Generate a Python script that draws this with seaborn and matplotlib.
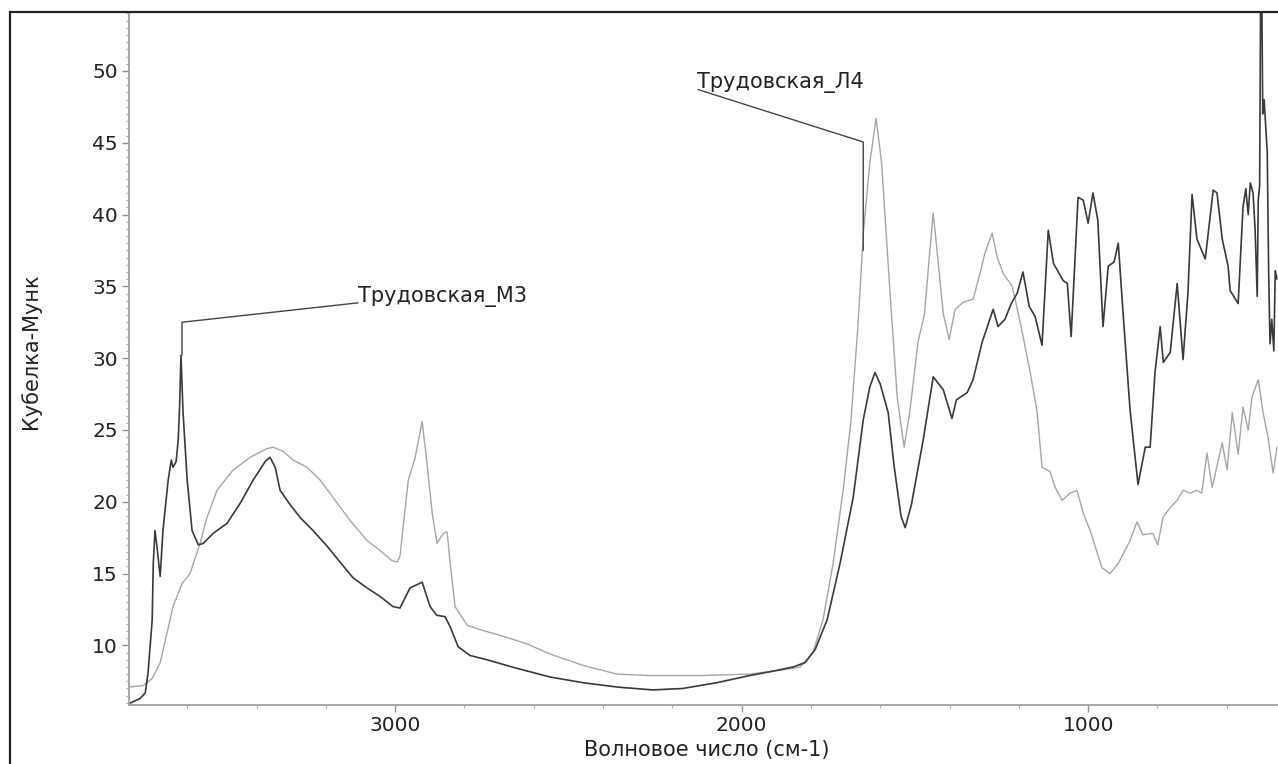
import matplotlib
matplotlib.use("Agg")
import matplotlib.pyplot as plt
from matplotlib.patches import Rectangle
from matplotlib.ticker import MultipleLocator
import seaborn as sns
import pandas as pd

# spectrum of sample M3 (dark line): wavenumber, Kubelka-Munk
m3_wn = [3768, 3736, 3721, 3713, 3701, 3698, 3693, 3687, 3678, 3670,
         3655, 3646, 3641, 3632, 3626, 3622, 3618, 3612, 3600, 3586,
         3568, 3554, 3525, 3485, 3447, 3410, 3375, 3361, 3346, 3332,
         3303, 3274, 3237, 3196, 3159, 3121, 3081, 3043, 3006, 2986,
         2957, 2922, 2899, 2880, 2856, 2841, 2818, 2784, 2735, 2648,
         2553, 2457, 2359, 2257, 2170, 2072, 1977, 1911, 1851, 1817,
         1788, 1753, 1716, 1678, 1649, 1630, 1615, 1600, 1577, 1560,
         1540, 1528, 1510, 1476, 1447, 1418, 1393, 1380, 1349, 1332,
         1306, 1274, 1260, 1240, 1222, 1205, 1188, 1170, 1153, 1133,
         1115, 1100, 1072, 1060, 1049, 1029, 1014, 1000, 986, 972,
         957, 942, 925, 913, 899, 879, 856, 835, 821, 807,
         792, 783, 763, 743, 726, 712, 700, 686, 662, 639,
         628, 613, 596, 590, 567, 553, 545, 538, 532, 524,
         518, 512, 509, 505, 502, 499, 496, 492, 487, 483,
         479, 475, 470, 464, 460, 455]
m3_km = [5.95, 6.3, 6.7, 8.1, 11.8, 15.7, 18.0, 16.8, 14.8, 18.0,
         21.5, 22.9, 22.4, 22.8, 24.3, 26.6, 30.2, 26.2, 21.5, 18.0,
         17.0, 17.1, 17.8, 18.5, 19.9, 21.5, 22.8, 23.1, 22.4, 20.8,
         19.8, 18.9, 18.0, 16.9, 15.8, 14.7, 14.0, 13.4, 12.7, 12.6,
         14.0, 14.4, 12.7, 12.1, 12.0, 11.3, 9.9, 9.3, 9.0, 8.4,
         7.8, 7.4, 7.1, 6.9, 7.0, 7.4, 7.9, 8.2, 8.5, 8.8,
         9.7, 11.8, 15.7, 20.3, 25.7, 28.0, 29.0, 28.2, 26.2, 22.5,
         19.0, 18.2, 19.8, 24.3, 28.7, 27.8, 25.8, 27.1, 27.6, 28.5,
         31.1, 33.4, 32.2, 32.7, 33.8, 34.5, 36.0, 33.6, 32.9, 30.9,
         38.9, 36.6, 35.4, 35.2, 31.5, 41.2, 41.0, 39.4, 41.5, 39.6,
         32.2, 36.4, 36.7, 38.0, 33.1, 26.4, 21.2, 23.8, 23.8, 29.0,
         32.2, 29.7, 30.4, 35.2, 29.9, 34.5, 41.4, 38.3, 36.9, 41.7,
         41.5, 38.3, 36.4, 34.7, 33.8, 40.5, 41.8, 40.0, 42.2, 41.5,
         38.9, 34.3, 41.0, 42.0, 56.0, 56.0, 47.0, 48.0, 46.0, 44.3,
         36.0, 31.0, 32.7, 30.5, 36.1, 35.5]

# spectrum of sample L4 (light line)
l4_wn = [3768, 3727, 3701, 3678, 3658, 3641, 3615, 3592, 3563, 3543,
         3514, 3468, 3418, 3370, 3352, 3323, 3294, 3254, 3216, 3179,
         3130, 3081, 3043, 3009, 2994, 2986, 2962, 2942, 2922, 2908,
         2893, 2879, 2861, 2850, 2841, 2827, 2792, 2755, 2697, 2619,
         2553, 2457, 2359, 2264, 2121, 1977, 1880, 1831, 1794, 1765,
         1736, 1707, 1685, 1665, 1648, 1630, 1612, 1596, 1571, 1551,
         1531, 1515, 1491, 1472, 1456, 1447, 1437, 1418, 1401, 1384,
         1360, 1332, 1312, 1298, 1277, 1262, 1245, 1219, 1196, 1167,
         1147, 1133, 1110, 1095, 1075, 1052, 1032, 1014, 994, 960,
         937, 913, 879, 859, 842, 813, 799, 784, 763, 743,
         726, 706, 686, 672, 657, 642, 613, 599, 584, 567,
         553, 538, 527, 509, 495, 481, 466, 455]
l4_km = [7.1, 7.2, 7.7, 8.8, 10.9, 12.7, 14.3, 15.0, 17.1, 18.9,
         20.8, 22.2, 23.1, 23.7, 23.8, 23.5, 22.9, 22.4, 21.5, 20.3,
         18.7, 17.3, 16.6, 15.9, 15.8, 16.2, 21.5, 23.1, 25.6, 22.7,
         19.2, 17.1, 17.8, 17.9, 15.7, 12.7, 11.4, 11.1, 10.7, 10.1,
         9.4, 8.6, 8.0, 7.9, 7.9, 8.0, 8.3, 8.5, 9.5, 11.8,
         15.7, 20.8, 25.5, 32.0, 38.9, 43.6, 46.7, 43.6, 34.3, 27.3,
         23.8, 26.2, 31.1, 33.1, 37.7, 40.1, 37.7, 33.1, 31.3, 33.4,
         33.9, 34.1, 35.9, 37.3, 38.7, 37.0, 35.9, 35.0, 32.5, 29.0,
         26.2, 22.4, 22.1, 21.0, 20.1, 20.6, 20.8, 19.2, 18.0, 15.4,
         15.0, 15.7, 17.3, 18.6, 17.7, 17.8, 17.0, 18.9, 19.6, 20.1,
         20.8, 20.6, 20.8, 20.6, 23.4, 21.0, 24.1, 22.2, 26.2, 23.3,
         26.6, 25.0, 27.3, 28.5, 26.2, 24.5, 22.0, 23.8]

labels = ["Трудовская_М3", "Трудовская_Л4"]
# leader lines: text anchor, elbow, end on curve (data units)
m3_label = (3107, 34.3)
m3_leader = ([3107, 3615, 3615], [33.85, 32.5, 30.2])
l4_label = (2128, 49.2)
l4_leader = ([2126, 1649, 1649], [48.7, 45.05, 37.5])

df_m3 = pd.DataFrame({"wn": m3_wn, "km": m3_km})
df_l4 = pd.DataFrame({"wn": l4_wn, "km": l4_km})

sns.set_style("ticks")
plt.rcParams['font.family'] = ['DejaVu Sans']

fig = plt.figure(figsize=(12.78, 7.64), dpi=100)
ax = fig.add_axes([129 / 1278, 1 - 705 / 764, 1149 / 1278, 693 / 764])

sns.lineplot(data=df_l4, x="wn", y="km", color="#a6a6a6", linewidth=1.0, ax=ax)
sns.lineplot(data=df_m3, x="wn", y="km", color="#3a3a3a", linewidth=1.2, ax=ax)

ax.set_xlim(3768, 452)
ax.set_ylim(5.85, 54.1)

ax.xaxis.set_minor_locator(MultipleLocator(200))
ax.yaxis.set_minor_locator(MultipleLocator(0.5))
ax.set_yticks([10, 15, 20, 25, 30, 35, 40, 45, 50])
ax.set_xticks([3000, 2000, 1000])

ax.spines['top'].set_visible(False)
ax.spines['right'].set_visible(False)
for s in ['left', 'bottom']:
    ax.spines[s].set_color('#a0a0a0')
    ax.spines[s].set_linewidth(1.3)

ax.tick_params(which='major', length=5, width=1, color='#909090', labelsize=14.5, labelcolor='#222222', pad=3)
ax.tick_params(which='minor', length=2.5, width=0.8, color='#a8a8a8')

ax.set_xlabel("Волновое число (см-1)", fontsize=15, color='#222222')
ax.set_ylabel("Кубелка-Мунк", fontsize=15, color='#222222')
ax.xaxis.set_label_coords(0.503, -0.05)
ax.yaxis.set_label_coords(-0.077, 0.51)

ax.plot(m3_leader[0], m3_leader[1], color='#444444', linewidth=1.0)
ax.plot(l4_leader[0], l4_leader[1], color='#444444', linewidth=1.0)
ax.text(m3_label[0], m3_label[1], labels[0], fontsize=15, color='#222222', ha='left', va='center')
ax.text(l4_label[0], l4_label[1], labels[1], fontsize=15, color='#222222', ha='left', va='center')

# outer frame of the exported picture
fig.patches.append(Rectangle((10 / 1278, -0.1), 1.2, 1.1 - 12 / 764, transform=fig.transFigure,
                             fill=False, edgecolor='#222222', linewidth=1.6, zorder=10))

fig.savefig("out.png", dpi=100)
